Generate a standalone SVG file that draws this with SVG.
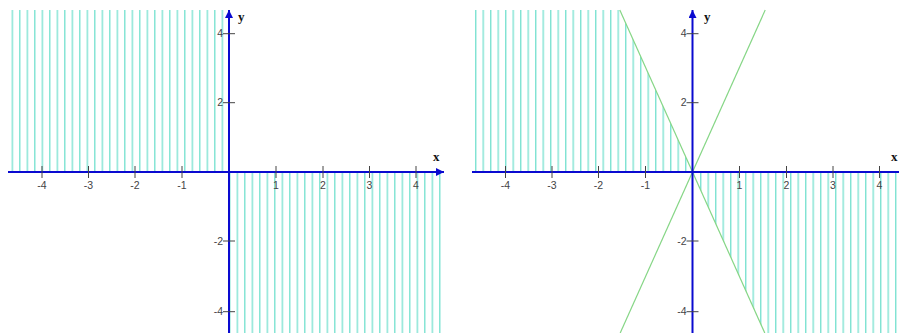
<svg xmlns="http://www.w3.org/2000/svg" width="899" height="333" viewBox="0 0 899 333">
<style>
.hatch{stroke:#7fe3d2;stroke-width:1.4}
.axis{stroke:#0a0ad0;stroke-width:2;fill:none}
.tick{stroke:#444;stroke-width:1}
.tl{font-family:"Liberation Sans",Arial,sans-serif;font-size:10.5px;fill:#444}
.tlx{text-anchor:middle}
.tly{text-anchor:end}
.al{font-family:"Liberation Serif","Times New Roman",serif;font-size:13px;font-weight:bold;fill:#111}
.gl{stroke:#86d686;stroke-width:1.2;fill:none}
</style>
<defs>
<pattern id="hL" patternUnits="userSpaceOnUse" x="11.6" y="0" width="7.5" height="20"><line class="hatch" x1="0.7" y1="0" x2="0.7" y2="20"/></pattern>
<pattern id="hR" patternUnits="userSpaceOnUse" x="475" y="0" width="7.5" height="20"><line class="hatch" x1="0.7" y1="0" x2="0.7" y2="20"/></pattern>
<marker id="arr" markerUnits="userSpaceOnUse" markerWidth="10" markerHeight="10" refX="8" refY="4" orient="auto"><path d="M0,0 L8,4 L0,8 Z" fill="#0a0ad0"/></marker>
</defs>
<g id="plot-left">
<rect x="11" y="10" width="214" height="162" fill="url(#hL)"/>
<rect x="230" y="172" width="214" height="161" fill="url(#hL)"/>
<g id="axes-left">
<line class="axis" x1="8" y1="172" x2="444" y2="172" marker-end="url(#arr)"/>
<line class="axis" x1="229" y1="333" x2="229" y2="10" marker-end="url(#arr)"/>
</g>
<g id="ticks-left">
<line class="tick" x1="42" y1="166" x2="42" y2="178"/>
<line class="tick" x1="88.5" y1="166" x2="88.5" y2="178"/>
<line class="tick" x1="135" y1="166" x2="135" y2="178"/>
<line class="tick" x1="182" y1="166" x2="182" y2="178"/>
<line class="tick" x1="276" y1="166" x2="276" y2="178"/>
<line class="tick" x1="323" y1="166" x2="323" y2="178"/>
<line class="tick" x1="369.5" y1="166" x2="369.5" y2="178"/>
<line class="tick" x1="416" y1="166" x2="416" y2="178"/>
<line class="tick" x1="223" y1="33.7" x2="235" y2="33.7"/>
<line class="tick" x1="223" y1="102.7" x2="235" y2="102.7"/>
<line class="tick" x1="223" y1="241" x2="235" y2="241"/>
<line class="tick" x1="223" y1="311.7" x2="235" y2="311.7"/>
<text class="tl tlx" x="42" y="189">-4</text>
<text class="tl tlx" x="88.5" y="189">-3</text>
<text class="tl tlx" x="135" y="189">-2</text>
<text class="tl tlx" x="182" y="189">-1</text>
<text class="tl tlx" x="276" y="189">1</text>
<text class="tl tlx" x="323" y="189">2</text>
<text class="tl tlx" x="369.5" y="189">3</text>
<text class="tl tlx" x="416" y="189">4</text>
<text class="tl tly" x="223" y="37.4">4</text>
<text class="tl tly" x="223" y="106.4">2</text>
<text class="tl tly" x="223" y="244.7">-2</text>
<text class="tl tly" x="223" y="315.4">-4</text>
<text class="al" x="238" y="21">y</text>
<text class="al" x="433" y="161">x</text>
</g>
</g>
<g id="plot-right">
<polygon points="472,10 619.8,10 692.5,172 472,172" fill="url(#hR)"/>
<polygon points="692.5,172 899,172 899,333 764.8,333" fill="url(#hR)"/>
<g id="lines-right">
<line class="gl" x1="619.8" y1="10" x2="764.8" y2="333"/>
<line class="gl" x1="765.2" y1="10" x2="620.2" y2="333"/>
</g>
<g id="axes-right">
<line class="axis" x1="472" y1="172" x2="907" y2="172"/>
<line class="axis" x1="692.5" y1="333" x2="692.5" y2="10" marker-end="url(#arr)"/>
</g>
<g id="ticks-right">
<line class="tick" x1="505.5" y1="166" x2="505.5" y2="178"/>
<line class="tick" x1="552" y1="166" x2="552" y2="178"/>
<line class="tick" x1="598.5" y1="166" x2="598.5" y2="178"/>
<line class="tick" x1="645.5" y1="166" x2="645.5" y2="178"/>
<line class="tick" x1="739.5" y1="166" x2="739.5" y2="178"/>
<line class="tick" x1="786.5" y1="166" x2="786.5" y2="178"/>
<line class="tick" x1="833" y1="166" x2="833" y2="178"/>
<line class="tick" x1="879.5" y1="166" x2="879.5" y2="178"/>
<line class="tick" x1="686.5" y1="33.7" x2="698.5" y2="33.7"/>
<line class="tick" x1="686.5" y1="102.7" x2="698.5" y2="102.7"/>
<line class="tick" x1="686.5" y1="241" x2="698.5" y2="241"/>
<line class="tick" x1="686.5" y1="311.7" x2="698.5" y2="311.7"/>
<text class="tl tlx" x="505.5" y="189">-4</text>
<text class="tl tlx" x="552" y="189">-3</text>
<text class="tl tlx" x="598.5" y="189">-2</text>
<text class="tl tlx" x="645.5" y="189">-1</text>
<text class="tl tlx" x="739.5" y="189">1</text>
<text class="tl tlx" x="786.5" y="189">2</text>
<text class="tl tlx" x="833" y="189">3</text>
<text class="tl tlx" x="879.5" y="189">4</text>
<text class="tl tly" x="686.5" y="37.4">4</text>
<text class="tl tly" x="686.5" y="106.4">2</text>
<text class="tl tly" x="686.5" y="244.7">-2</text>
<text class="tl tly" x="686.5" y="315.4">-4</text>
<text class="al" x="704" y="21">y</text>
<text class="al" x="891" y="161">x</text>
</g>
</g>
</svg>
